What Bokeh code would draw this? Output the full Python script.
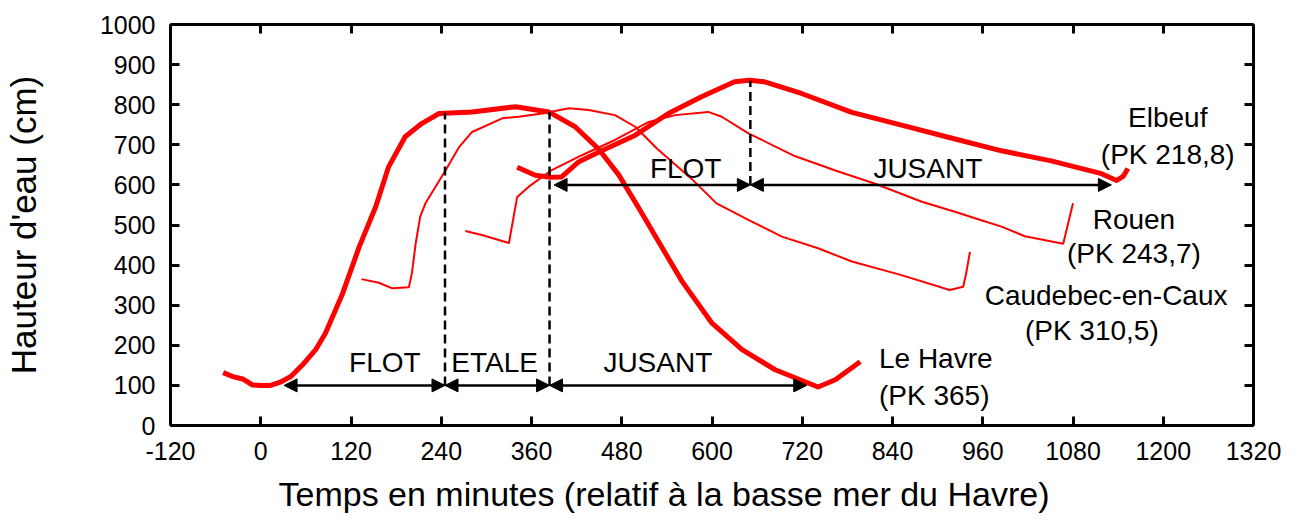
from bokeh.plotting import figure
from bokeh.models import (Range1d, FixedTicker, LinearAxis, Arrow, NormalHead, Title,
                          CustomJSTickFormatter)
from bokeh.core.properties import value
from bokeh.embed import file_html
from bokeh.resources import INLINE

FONT = "Liberation Sans"

# ---------------- data ----------------
x_ticks = [-120, 0, 120, 240, 360, 480, 600, 720, 840, 960, 1080, 1200, 1320]
x_tick_labels = ["-120", "0", "120", "240", "360", "480", "600", "720", "840", "960", "1080", "1200", "1320"]
y_ticks = [0, 100, 200, 300, 400, 500, 600, 700, 800, 900, 1000]

x_title = "Temps en minutes (relatif à la basse mer du Havre)"
y_title = "Hauteur d'eau (cm)"

# Le Havre (PK 365)
havre_t = [-50, -37, -24, -11, 0, 13, 26, 40, 55, 73, 86, 109, 131, 153, 170, 192, 214, 237,
           281, 339, 383, 418, 449, 476, 503, 530, 560, 600, 640, 684, 741, 764, 797]
havre_h = [132, 122, 116, 101, 100, 100, 108, 122, 150, 189, 230, 330, 446, 546, 645, 720, 753, 778,
           782, 795, 782, 745, 690, 625, 541, 455, 360, 255, 189, 139, 96, 114, 159]

# Caudebec-en-Caux (PK 310,5)
caudebec_t = [134, 157, 175, 197, 201, 206, 212, 219, 246, 264, 281, 321, 343, 374, 410, 436, 471,
              498, 527, 573, 606, 649, 693, 741, 786, 852, 916, 934, 938, 943]
caudebec_h = [365, 356, 342, 345, 380, 454, 521, 554, 637, 695, 732, 766, 770, 778, 791, 787, 774,
              745, 690, 615, 554, 512, 471, 442, 409, 375, 338, 346, 380, 433]

# Rouen (PK 243,7)
rouen_t = [272, 294, 330, 341, 356, 387, 427, 471, 516, 551, 595, 613, 649, 710, 764, 817, 879,
           923, 958, 985, 1016, 1067, 1080]
rouen_h = [485, 475, 455, 570, 595, 637, 674, 712, 757, 774, 782, 770, 728, 672, 636, 603, 558,
           533, 512, 496, 472, 453, 554]

# Elbeuf (PK 218,8)
elbeuf_t = [341, 365, 385, 400, 423, 454, 498, 542, 586, 630, 650, 670, 719, 786, 852, 918, 985,
            1051, 1118, 1138, 1147, 1153]
elbeuf_h = [644, 624, 619, 620, 658, 686, 724, 778, 820, 857, 861, 857, 828, 781, 749, 717, 685,
            660, 628, 611, 622, 641]

# tide phases (Le Havre: lower arrows, Elbeuf: upper arrows)
lower_bounds = [31, 245, 384, 726]
lower_names = ["FLOT", "ETALE", "JUSANT"]
lower_label_t = [165, 311, 528]
lower_level = 100
lower_label_h = 157

upper_bounds = [390, 651, 1131]
upper_names = ["FLOT", "JUSANT"]
upper_label_t = [565, 887]
upper_level = 600
upper_label_h = 642

# dashed phase limits
dash_t = [245, 384, 651]
dash_from = [100, 100, 600]
dash_to = [780, 782, 860]

# station labels
station_text = ["Elbeuf", "(PK 218,8)", "Rouen", "(PK 243,7)", "Caudebec-en-Caux", "(PK 310,5)"]
station_t = [1206, 1206, 1161, 1161, 1124, 1105]
station_h = [767, 677, 514, 428, 325, 238]
havre_text = ["Le Havre", "(PK 365)"]
havre_label_t = [822, 822]
havre_label_h = [166, 76]

# ---------------- figure ----------------
p = figure(width=1295, height=522, x_range=Range1d(-120, 1320), y_range=Range1d(0, 1000),
           output_backend="svg", toolbar_location=None,
           min_border_left=167, min_border_right=42, min_border_top=24, min_border_bottom=97)
p.outline_line_color = None
p.xgrid.grid_line_color = None
p.ygrid.grid_line_color = None
p.background_fill_color = "white"
p.border_fill_color = "white"


def style_axis(ax, ticks):
    ax.ticker = FixedTicker(ticks=ticks)
    ax.axis_line_width = 3
    ax.axis_line_color = "black"
    ax.major_tick_in = 9
    ax.major_tick_out = 0
    ax.major_tick_line_width = 3
    ax.major_tick_line_color = "black"
    ax.minor_tick_line_color = None
    ax.major_label_text_font = FONT
    ax.major_label_text_font_size = "25px"
    ax.major_label_text_color = "black"


style_axis(p.xaxis[0], x_ticks)
style_axis(p.yaxis[0], y_ticks)
p.xaxis[0].major_label_overrides = dict(zip(x_ticks, x_tick_labels))
p.xaxis[0].major_label_standoff = 16
p.yaxis[0].major_label_standoff = 15
p.yaxis[0].axis_label = y_title
p.yaxis[0].axis_label_text_font = FONT
p.yaxis[0].axis_label_text_font_size = "35px"
p.yaxis[0].axis_label_text_font_style = "normal"
p.yaxis[0].axis_label_text_color = "black"
p.yaxis[0].axis_label_standoff = 54

top_axis = LinearAxis(formatter=CustomJSTickFormatter(code="return ''"), major_label_standoff=0)
style_axis(top_axis, x_ticks)
right_axis = LinearAxis(formatter=CustomJSTickFormatter(code="return ''"), major_label_standoff=0)
style_axis(right_axis, y_ticks)
p.add_layout(top_axis, "above")
p.add_layout(right_axis, "right")

p.add_layout(Title(text=x_title, align="left", offset=108, text_font=FONT,
                   text_font_size="34px", text_font_style="normal", text_color="black",
                   standoff=20), "below")

# curves
p.line(havre_t, havre_h, line_color="#ff0000", line_width=5, line_join="round")
p.line(caudebec_t, caudebec_h, line_color="#ff0000", line_width=2, line_join="round")
p.line(rouen_t, rouen_h, line_color="#ff0000", line_width=2, line_join="round")
p.line(elbeuf_t, elbeuf_h, line_color="#ff0000", line_width=5, line_join="round")

# dashed limits
p.segment(x0=dash_t, y0=dash_from, x1=dash_t, y1=dash_to, line_color="black",
          line_width=2.5, line_dash="9 5")


def add_arrows(bounds, level):
    for a, b in zip(bounds[:-1], bounds[1:]):
        p.add_layout(Arrow(x_start=a, y_start=level, x_end=b, y_end=level,
                           line_color="black", line_width=2.5,
                           start=NormalHead(size=13, fill_color="black", line_color="black", line_width=1),
                           end=NormalHead(size=13, fill_color="black", line_color="black", line_width=1)))


add_arrows(lower_bounds, lower_level)
add_arrows(upper_bounds, upper_level)

p.text(x=lower_label_t, y=[lower_label_h] * len(lower_names), text=lower_names,
       text_font=value(FONT), text_font_size="28px", text_align="center",
       text_baseline="middle", text_color="black")
p.text(x=upper_label_t, y=[upper_label_h] * len(upper_names), text=upper_names,
       text_font=value(FONT), text_font_size="28px", text_align="center",
       text_baseline="middle", text_color="black")
p.text(x=station_t, y=station_h, text=station_text,
       text_font=value(FONT), text_font_size="28px", text_align="center",
       text_baseline="middle", text_color="black")
p.text(x=havre_label_t, y=havre_label_h, text=havre_text,
       text_font=value(FONT), text_font_size="28px", text_align="left",
       text_baseline="middle", text_color="black")

open("out.html", "w").write(file_html(p, INLINE))
